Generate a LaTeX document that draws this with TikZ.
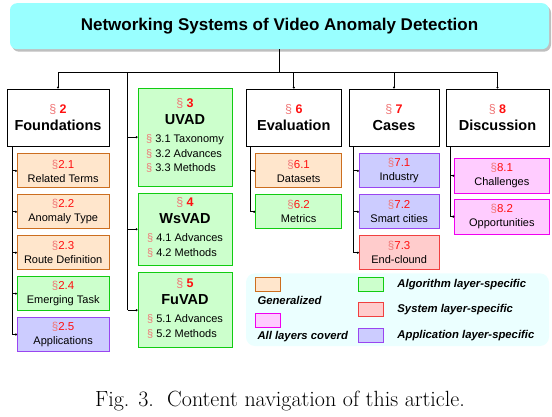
\documentclass[tikz,border=0pt]{standalone}
\usepackage{fontspec}
\setsansfont{Liberation Sans}
\usepackage{xcolor}
\usetikzlibrary{arrows.meta, positioning, shadows}

\definecolor{titlecyan}{HTML}{99FFFF}
\definecolor{genfill}{HTML}{FFE6CC}
\definecolor{gendraw}{HTML}{CC6E1F}
\definecolor{algfill}{HTML}{CCFFCC}
\definecolor{algdraw}{HTML}{11CC11}
\definecolor{sysfill}{HTML}{FFCCCC}
\definecolor{sysdraw}{HTML}{F04040}
\definecolor{appfill}{HTML}{CCCCFF}
\definecolor{appdraw}{HTML}{9945F0}
\definecolor{allfill}{HTML}{FFCCFF}
\definecolor{alldraw}{HTML}{F000F0}
\definecolor{legendbg}{HTML}{EBFFFF}
\definecolor{secred}{HTML}{FF1010}
\definecolor{secpale}{HTML}{F07878}

\newcommand{\sechead}[1]{{\fontsize{12.5}{16}\selectfont\color{secpale}\S\ \color{secred}\textbf{#1}}}
\newcommand{\subhead}[1]{{\fontsize{11.5}{14}\selectfont\color{secpale}\S\color{secred}#1}}
\newcommand{\listsec}[1]{{\color{secpale}\S}~#1}
\newcommand{\listfont}{\fontsize{11}{14.8}\selectfont}

\begin{document}
\begin{tikzpicture}[x=1pt, y=1pt, >=Stealth]
    \tikzstyle{chapter} = [rectangle, draw=black, line width=0.9pt, fill=white, minimum height=57pt, inner sep=0pt, align=center, font=\sffamily\fontsize{14.5}{17}\selectfont]
    \tikzstyle{secbox}  = [rectangle, line width=0.9pt, minimum height=34pt, inner sep=0pt, align=center, font=\sffamily\fontsize{11}{14}\selectfont]
    \tikzstyle{general}   = [fill=genfill, draw=gendraw]
    \tikzstyle{algo}      = [fill=algfill, draw=algdraw]
    \tikzstyle{system}    = [fill=sysfill, draw=sysdraw]
    \tikzstyle{applic}    = [fill=appfill, draw=appdraw]
    \tikzstyle{alllayers} = [fill=allfill, draw=alldraw]
    \tikzstyle{link}   = [line width=0.8pt]
    \tikzstyle{tick}   = [link, -{Circle[length=2pt]}]
    \tikzstyle{swatch} = [rectangle, line width=0.9pt, minimum width=25pt, minimum height=14pt, inner sep=0pt]
    \tikzstyle{legtext} = [font=\sffamily\bfseries\itshape\fontsize{11.3}{13}\selectfont, inner sep=0pt, anchor=west]

    \useasboundingbox (0,0) rectangle (552,-417);

    \node (title) [rectangle, rounded corners=7pt, fill=titlecyan, minimum width=539pt, minimum height=46pt,
        drop shadow={shadow xshift=2pt, shadow yshift=-2.5pt, fill=black!25, opacity=1},
        font=\sffamily\bfseries\fontsize{17}{20}\selectfont] at (279.5,-26.2)
        {Networking Systems of Video Anomaly Detection};

    % chapters
    \node (found) [chapter, minimum width=102pt] at (58,-117.5) {\sechead{2}\\\textbf{Foundations}};
    \node (eval)  [chapter, minimum width=95.7pt] at (293.8,-117.5) {\sechead{6}\\\textbf{Evaluation}};
    \node (cases) [chapter, minimum width=90pt] at (394,-117.5) {\sechead{7}\\\textbf{Cases}};
    \node (disc)  [chapter, minimum width=103pt] at (497.5,-117.5) {\sechead{8}\\\textbf{Discussion}};

    \node (uvad)  [chapter, algo, minimum width=94pt, minimum height=97.7pt] at (185,-137.2)
        {\sechead{3}\\\textbf{UVAD}\\[1pt]{\listfont\begin{tabular}[t]{@{}l@{}}\listsec{3.1 Taxonomy}\\\listsec{3.2 Advances}\\\listsec{3.3 Methods}\end{tabular}}};
    \node (wsvad) [chapter, algo, minimum width=94pt, minimum height=72pt, below=6.3pt of uvad]
        {\sechead{4}\\\textbf{WsVAD}\\[1pt]{\listfont\begin{tabular}[t]{@{}l@{}}\listsec{4.1 Advances}\\\listsec{4.2 Methods}\end{tabular}}};
    \node (fuvad) [chapter, algo, minimum width=94pt, minimum height=75.3pt, below=6.4pt of wsvad]
        {\sechead{5}\\\textbf{FuVAD}\\[1pt]{\listfont\begin{tabular}[t]{@{}l@{}}\listsec{5.1 Advances}\\\listsec{5.2 Methods}\end{tabular}}};

    % sections
    \node (f21) [secbox, general, minimum width=91.7pt, below=7pt of found.south east, anchor=north east] {\subhead{2.1}\\Related Terms};
    \node (f22) [secbox, general, minimum width=91.7pt, below=6pt of f21] {\subhead{2.2}\\Anomaly Type};
    \node (f23) [secbox, general, minimum width=91.7pt, below=6pt of f22] {\subhead{2.3}\\Route Definition};
    \node (f24) [secbox, algo, minimum width=91.7pt, below=6pt of f23] {\subhead{2.4}\\Emerging Task};
    \node (f25) [secbox, applic, minimum width=91.7pt, below=6pt of f24] {\subhead{2.5}\\Applications};

    \node (e61) [secbox, general, minimum width=86pt, below=7pt of eval.south east, anchor=north east] {\subhead{6.1}\\Datasets};
    \node (e62) [secbox, algo, minimum width=86pt, below=6pt of e61] {\subhead{6.2}\\Metrics};

    \node (c71) [secbox, applic, minimum width=79.7pt, below=7pt of cases.south east, anchor=north east] {\subhead{7.1}\\Industry};
    \node (c72) [secbox, applic, minimum width=79.7pt, below=6pt of c71] {\subhead{7.2}\\Smart cities};
    \node (c73) [secbox, system, minimum width=79.7pt, below=6pt of c72] {\subhead{7.3}\\End-clound};

    \node (d81) [secbox, alllayers, minimum width=94.3pt, minimum height=35pt, below=11.3pt of disc.south east, anchor=north east] {\subhead{8.1}\\Challenges};
    \node (d82) [secbox, alllayers, minimum width=94.3pt, minimum height=35pt, below=5pt of d81] {\subhead{8.2}\\Opportunities};

    % connectors
    \coordinate (bus) at (0,-72.3);
    \coordinate (uspine) at (127.7,-72.3);
    \draw [link] (title.south) -- (title.south |- bus);
    \draw [link] (found.north |- bus) -- (disc.north |- bus);
    \foreach \n in {found, eval, cases, disc}
        \draw [tick] (\n.north |- bus) -- (\n.north);
    \draw [link] (uspine) -- (uspine |- fuvad.west);
    \foreach \n in {uvad, wsvad, fuvad}
        \draw [tick] (uspine |- \n.west) -- (\n.west);

    \draw [link] ([xshift=5.7pt]found.south west) -- ([xshift=5.7pt]found.south west |- f25.west);
    \foreach \n in {f21, f22, f23, f24, f25}
        \draw [tick] ([xshift=5.7pt]found.south west |- \n.west) -- (\n.west);
    \draw [link] ([xshift=5.2pt]eval.south west) -- ([xshift=5.2pt]eval.south west |- e62.west);
    \foreach \n in {e61, e62}
        \draw [tick] ([xshift=5.2pt]eval.south west |- \n.west) -- (\n.west);
    \draw [link] ([xshift=5.3pt]cases.south west) -- ([xshift=5.3pt]cases.south west |- c73.west);
    \foreach \n in {c71, c72, c73}
        \draw [tick] ([xshift=5.3pt]cases.south west |- \n.west) -- (\n.west);
    \draw [link] ([xshift=4.7pt]disc.south west) -- ([xshift=4.7pt]disc.south west |- d82.west);
    \foreach \n in {d81, d82}
        \draw [tick] ([xshift=4.7pt]disc.south west |- \n.west) -- (\n.west);

    % legend
    \node (legend) [rectangle, rounded corners=9pt, fill=legendbg, minimum width=303pt, minimum height=72.7pt] at (397.5,-309.7) {};
    \node (swgen) [swatch, general] at (267.5,-284.2) {};
    \node (swall) [swatch, alllayers] at (267.5,-320.3) {};
    \node (swalg) [swatch, algo] at (371.3,-284.2) {};
    \node (swsys) [swatch, system] at (371.3,-309.5) {};
    \node (swapp) [swatch, applic] at (371.3,-335.3) {};
    \node (lgen) [legtext] at (257.3,-300.7) {Generalized};
    \node (lall) [legtext] at (257.3,-336.7) {All layers coverd};
    \node (lalg) [legtext, right=13pt of swalg] {Algorithm layer-specific};
    \node (lsys) [legtext, right=13pt of swsys] {System layer-specific};
    \node (lapp) [legtext, right=13pt of swapp] {Application layer-specific};

    \node (caption) [font=\rmfamily\fontsize{22}{26}\selectfont, anchor=base] at (280,-406.7)
        {Fig. 3.\ \ Content navigation of this article.};
\end{tikzpicture}
\end{document}
